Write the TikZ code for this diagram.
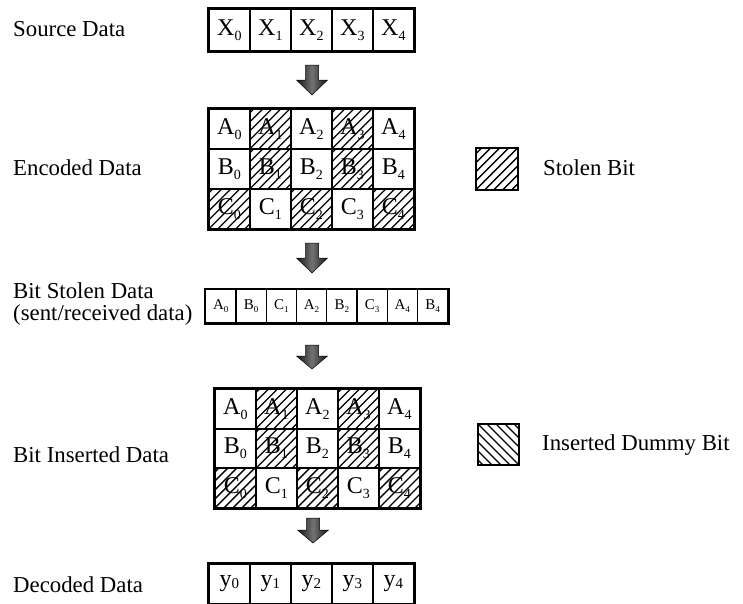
\documentclass[tikz,border=0pt]{standalone}
\usepackage{fontspec}
\setmainfont{Liberation Serif}
\newcommand\sbx[2]{#1\raisebox{-5pt}{\fontsize{14}{14}\selectfont #2}}
\newcommand\sbs[2]{#1\raisebox{-3pt}{\fontsize{9}{9}\selectfont #2}}
\newcommand\sby[2]{#1\raisebox{-2pt}{\fontsize{15}{15}\selectfont #2}}
\newcommand\barrow[5]{%
  \coordinate (#1) at (#2,#3);
  \shade[blockarrow] (#2-6.5,#3) -- (#2+6.5,#3) -- (#2+6.5,#4-#5) -- (#2+15.5,#4-#5)
    -- (#2,#4) -- (#2-15.5,#4-#5) -- (#2-6.5,#4-#5) -- cycle;}
\begin{document}
\begin{tikzpicture}[x=1pt,y=-1pt,
  lab/.style={anchor=base west, inner sep=0pt, font=\fontsize{22.8}{26}\selectfont},
  cell/.style={draw, line width=1.8pt, minimum width=41pt, minimum height=40pt, inner sep=0pt,
    anchor=north west, font=\fontsize{24}{26}\selectfont},
  scell/.style={cell, line width=1.4pt, minimum width=30.25pt, minimum height=33pt, font=\fontsize{15}{16}\selectfont},
  hatch/.style={path picture={\foreach \d in {-54,-45,...,54}
      \draw[line width=1.3pt] ([xshift=\d pt]path picture bounding box.south west) -- ++(50,-50);}},
  ihatch/.style={path picture={\foreach \d in {-54,-45,...,54}
      \draw[line width=1.3pt] ([xshift=\d pt]path picture bounding box.north west) -- ++(50,50);}},
  frame/.style={line width=2.6pt},
  blockarrow/.style={left color=black!92,right color=black!92,middle color=black!55,draw=black,line width=0.5pt}
]
\useasboundingbox (0,0) rectangle (743,603);

% left labels
\node[lab] (l1) at (13,36) {Source Data};
\node[lab] (l2) at (13,175) {Encoded Data};
\node[lab] (l3a) at (13,298) {Bit Stolen Data};
\node[lab] (l3b) at (13,320) {(sent/received data)};
\node[lab] (l4) at (13,462) {Bit Inserted Data};
\node[lab] (l5) at (13,592) {Decoded Data};

% source data
\foreach \i in {0,...,4}
  \node[cell, minimum height=42pt] (src\i) at ({208+41*\i},8) {\sbx{X}{\i}};
\draw[frame] (src0.north west) rectangle (src4.south east);

% encoded data
\foreach \r [count=\k from 0] in {A,B,C} {
  \foreach \i in {0,...,4} {
    \pgfmathtruncatemacro\odd{mod(\i,2)}
    \ifnum\k<2
      \ifnum\odd=1 \def\hs{hatch}\else\def\hs{}\fi
    \else
      \ifnum\odd=0 \def\hs{hatch}\else\def\hs{}\fi
    \fi
    \node[cell,\hs] (enc\r\i) at ({208+41*\i},{108+40*\k}) {\sbx{\r}{\i}};
  }
}
\draw[frame] (encA0.north west) rectangle (encC4.south east);

% bit stolen data
\foreach \t/\s [count=\k from 0] in {A/0,B/0,C/1,A/2,B/2,C/3,A/4,B/4}
  \node[scell] (bs\k) at ({205+30.25*\k},289) {\sbs{\t}{\s}};
\draw[frame] (bs0.north west) rectangle (bs7.south east);

% bit inserted data
\foreach \r [count=\k from 0] in {A,B,C} {
  \foreach \i in {0,...,4} {
    \pgfmathtruncatemacro\odd{mod(\i,2)}
    \ifnum\k<2
      \ifnum\odd=1 \def\hs{hatch}\else\def\hs{}\fi
    \else
      \ifnum\odd=0 \def\hs{hatch}\else\def\hs{}\fi
    \fi
    \node[cell,\hs,minimum height=39.7pt] (ins\r\i) at ({214+41*\i},{388+39.7*\k}) {\sbx{\r}{\i}};
  }
}
\draw[frame] (insA0.north west) rectangle (insC4.south east);

% decoded data
\foreach \i in {0,...,4}
  \node[cell] (dec\i) at ({208+41*\i},563) {\sby{y}{\i}};
\draw[frame] (dec0.north west) rectangle (dec4.south east);

% legend
\node[draw, line width=1.6pt, hatch, minimum width=42pt, minimum height=42pt, inner sep=0pt, anchor=north west] (leg1) at (475,147) {};
\node[lab] (leg1t) at (543,175) {Stolen Bit};
\node[draw, line width=1.6pt, ihatch, minimum width=41pt, minimum height=41pt, inner sep=0pt, anchor=north west] (leg2) at (477,423) {};
\node[lab] (leg2t) at (542,450) {Inserted Dummy Bit};

% block arrows
\barrow{a1}{312}{65}{95}{15}
\barrow{a2}{312}{243}{273}{15}
\barrow{a3}{312}{345}{369}{13}
\barrow{a4}{313}{518}{543}{13}
\end{tikzpicture}
\end{document}
